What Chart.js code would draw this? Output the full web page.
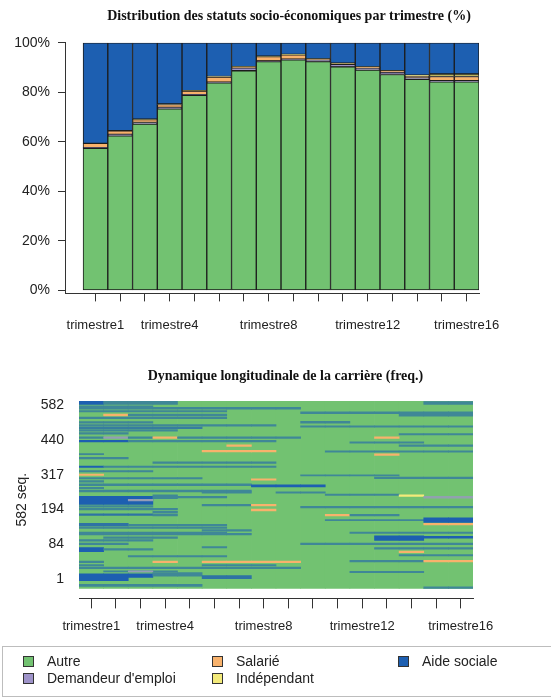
<!DOCTYPE html>
<html>
<head>
<meta charset="utf-8">
<script src="https://cdn.jsdelivr.net/npm/chart.js@4.4.1/dist/chart.umd.min.js"></script>
<style>
  body { margin: 0; background: #fff; font-family: 'Liberation Sans', Arial, sans-serif; }
  #wrap { position: relative; width: 551px; height: 699px; overflow: hidden; }
  #c1 { position: absolute; left: 0; top: 0; }
  #c2 { position: absolute; left: 0; top: 340px; }
  #legend { position: absolute; left: 2px; top: 646px; width: 560px; height: 51px; border: 1px solid #bdbdbd; box-sizing: border-box; }
  .item { position: absolute; font-size: 14px; color: #222; white-space: nowrap; line-height: 16px; }
  .sw { display: inline-block; width: 9px; height: 9px; border: 1px solid #333; margin-right: 13px; vertical-align: -1px; }
</style>
</head>
<body>
<div id="wrap">
  <canvas id="c1" width="567" height="357"></canvas>
  <canvas id="c2" width="557" height="311"></canvas>
  <div id="legend"></div>
</div>
<script>
Chart.defaults.font.family = "'Liberation Sans', Arial, sans-serif";

// periods and states
const periods = ['trimestre1', 'trimestre2', 'trimestre3', 'trimestre4', 'trimestre5', 'trimestre6',
  'trimestre7', 'trimestre8', 'trimestre9', 'trimestre10', 'trimestre11', 'trimestre12',
  'trimestre13', 'trimestre14', 'trimestre15', 'trimestre16'];
const shownPeriods = ['trimestre1', 'trimestre4', 'trimestre8', 'trimestre12', 'trimestre16'];
const states = ['Autre', "Demandeur d'emploi", 'Salarié', 'Indépendant', 'Aide sociale'];
const stateCodes = ['aut', 'dem', 'sal', 'ind', 'aid'];
const stateColors = ['#72C271', '#9E93C9', '#F8B26C', '#F3EA7A', '#1D5FB1'];

// distribution per quarter (%)
const autre       = [57.4, 62.4, 67.2, 73.3, 78.8, 83.8, 88.7, 92.4, 93.1, 92.4, 90.3, 89.0, 87.2, 85.2, 84.2, 84.2];
const demandeur   = [0.3, 0.6, 0.6, 0.6, 0.3, 0.3, 1.2, 0.3, 0.3, 0.6, 1.0, 0.8, 1.0, 0.6, 0.5, 0.5];
const salarie     = [1.7, 1.5, 1.2, 1.2, 1.4, 2.1, 0.3, 1.7, 1.7, 0.3, 0.3, 0.3, 0.3, 0.8, 1.7, 1.7];
const independant = [0, 0, 0.2, 0.2, 0.2, 0.2, 0.2, 0.2, 0.2, 0.2, 0.2, 0.2, 0.2, 0.3, 1.0, 1.0];
const aideSociale = [40.6, 35.5, 30.8, 24.7, 19.3, 13.6, 9.6, 5.4, 4.7, 6.5, 8.2, 9.7, 11.3, 13.1, 12.6, 12.6];

// sequence index plot
const seqCount = 582;
const seqTickLabels = ['1', '84', '194', '317', '440', '582'];
// [state, share of rows in that state, seq from, seq to, first quarter, last quarter]
const seqRuns = [
  ['aid', 1, 571, 582, 1, 1], ['aid', .6, 571, 582, 2, 4], ['aid', .6, 571, 580, 15, 16],
  ['aid', .6, 562, 567, 1, 3], ['aid', .6, 557, 562, 1, 9], ['aid', .6, 548, 552, 1, 6],
  ['aid', .6, 543, 548, 10, 13], ['aid', .6, 535, 548, 14, 16], ['sal', 1, 536, 541, 2, 2],
  ['aid', .6, 536, 541, 3, 6], ['aid', .6, 527, 532, 1, 6], ['aid', .6, 513, 518, 1, 3],
  ['aid', .6, 513, 519, 10, 11], ['aid', .6, 504, 509, 1, 8], ['aid', .6, 501, 505, 10, 16],
  ['aid', .7, 496, 501, 1, 5], ['aid', .6, 488, 493, 1, 4], ['aid', .6, 479, 484, 1, 2],
  ['aid', .6, 477, 481, 14, 16], ['aid', .6, 466, 471, 1, 1], ['dem', .8, 466, 471, 2, 2],
  ['aid', .6, 466, 471, 3, 3], ['sal', 1, 466, 471, 4, 4], ['aid', .6, 466, 471, 5, 9],
  ['sal', 1, 466, 471, 13, 13], ['aid', 1, 455, 460, 1, 2], ['aid', .6, 455, 460, 3, 8],
  ['aid', .6, 451, 455, 12, 14], ['sal', 1, 441, 446, 7, 7], ['aid', .6, 441, 446, 14, 16],
  ['sal', 1, 424, 429, 6, 8], ['aid', .6, 423, 427, 11, 16], ['aid', .6, 415, 419, 1, 1],
  ['sal', 1, 413, 418, 13, 13], ['aid', .6, 402, 407, 1, 2], ['aid', .6, 388, 393, 4, 8],
  ['aid', 1, 376, 380, 1, 1], ['aid', .6, 376, 380, 2, 8], ['aid', .6, 362, 366, 1, 3],
  ['sal', 1, 351, 355, 1, 1], ['aid', .6, 349, 353, 10, 13], ['aid', .6, 340, 344, 1, 5],
  ['aid', .6, 341, 346, 13, 16], ['sal', 1, 336, 340, 8, 8], ['aid', .6, 330, 335, 1, 1],
  ['aid', .6, 319, 325, 1, 7], ['aid', 1, 315, 322, 8, 10], ['aid', .6, 310, 314, 1, 1],
  ['aid', .6, 300, 305, 1, 7], ['aid', .6, 296, 300, 9, 10], ['aid', .6, 296, 300, 6, 7],
  ['aid', .6, 289, 293, 11, 13], ['ind', 1, 286, 291, 14, 14], ['dem', .7, 280, 286, 15, 16],
  ['aid', 1, 261, 286, 1, 3], ['dem', .8, 272, 277, 3, 3], ['aid', .6, 279, 291, 4, 4],
  ['aid', .6, 281, 286, 5, 6], ['aid', .6, 256, 261, 6, 7], ['sal', 1, 256, 261, 8, 8],
  ['aid', .6, 252, 257, 1, 3], ['aid', .6, 250, 255, 10, 16], ['aid', .6, 244, 249, 1, 4],
  ['sal', 1, 241, 246, 8, 8], ['aid', .6, 235, 239, 4, 4], ['aid', .8, 227, 232, 1, 3],
  ['sal', 1, 225, 230, 11, 11], ['aid', .6, 225, 230, 12, 13], ['aid', .6, 225, 232, 4, 4],
  ['aid', .6, 210, 214, 11, 14], ['aid', 1, 205, 219, 15, 16], ['sal', 1, 197, 202, 15, 16],
  ['aid', .8, 194, 202, 1, 2], ['aid', .6, 195, 199, 3, 6], ['aid', .6, 186, 191, 1, 6],
  ['aid', .6, 178, 183, 6, 7], ['aid', .6, 171, 175, 1, 6], ['aid', .6, 171, 175, 12, 16],
  ['aid', .6, 166, 171, 1, 7], ['aid', 1, 149, 163, 13, 14], ['aid', 1, 156, 162, 15, 16],
  ['aid', .6, 155, 160, 2, 4], ['aid', .6, 147, 152, 1, 3], ['aid', .6, 136, 141, 1, 2],
  ['aid', .6, 136, 141, 10, 16], ['aid', .6, 126, 130, 6, 6], ['aid', .6, 122, 127, 13, 16],
  ['aid', 1, 114, 127, 1, 1], ['aid', .6, 119, 124, 2, 3], ['sal', 1, 111, 116, 14, 14],
  ['aid', .6, 101, 105, 14, 16], ['aid', .6, 98, 102, 3, 6], ['aid', .6, 80, 85, 1, 1],
  ['sal', 1, 80, 85, 4, 4], ['sal', 1, 80, 85, 6, 9], ['aid', .6, 82, 87, 12, 14],
  ['sal', 1, 82, 87, 15, 16], ['aid', .6, 70, 74, 1, 1], ['aid', .6, 70, 74, 6, 8],
  ['aid', .6, 61, 66, 1, 9], ['aid', .6, 51, 55, 2, 4], ['dem', .8, 51, 55, 3, 3],
  ['aid', .6, 49, 53, 12, 14], ['aid', 1, 24, 45, 1, 2], ['aid', 1, 34, 45, 3, 3],
  ['aid', .6, 38, 49, 4, 5], ['aid', .8, 30, 40, 6, 7], ['aid', .6, 6, 13, 1, 5],
  ['aid', .6, 0, 5, 15, 16]
];

function mix(hexA, hexB, t) {
  const a = [1, 3, 5].map(i => parseInt(hexA.substr(i, 2), 16));
  const b = [1, 3, 5].map(i => parseInt(hexB.substr(i, 2), 16));
  return 'rgb(' + a.map((v, i) => Math.round(v * t + b[i] * (1 - t))).join(',') + ')';
}

const axisColor = '#333';
const textColor = '#222';
const titleFont = { family: "'Liberation Serif', 'Times New Roman', serif", size: 14, weight: 'bold' };

// spacer axis on the right so the titles sit where the original has them
const rightSpacer = width => ({
  position: 'right', display: true,
  afterFit: s => { s.width = width; },
  ticks: { display: false }, grid: { display: false }, border: { display: false }
});

// --- top chart: stacked distribution ---
const shareSeries = [autre, demandeur, salarie, independant, aideSociale];
new Chart(document.getElementById('c1'), {
  type: 'bar',
  data: {
    datasets: shareSeries.map((s, k) => ({
      label: states[k],
      data: s.map((v, i) => ({ x: i + 1, y: v })),
      backgroundColor: stateColors[k],
      borderColor: '#1c1c1c',
      borderWidth: 1,
      borderSkipped: false,
      barPercentage: 1,
      categoryPercentage: 1,
      yAxisID: 'y'
    }))
  },
  options: {
    responsive: false,
    animation: false,
    layout: { padding: { left: 11, right: 0, top: 0, bottom: 8 } },
    plugins: {
      legend: { display: false },
      tooltip: { enabled: false },
      title: {
        display: true,
        text: 'Distribution des statuts socio-économiques par trimestre (%)',
        font: titleFont, color: '#111',
        padding: { top: 8, bottom: 18 }
      }
    },
    scales: {
      x: {
        type: 'linear', stacked: true, offset: false, min: -0.23, max: 16.5,
        afterBuildTicks: s => { s.ticks = periods.map((p, i) => ({ value: i + 1 })); },
        ticks: {
          autoSkip: false, maxRotation: 0, padding: 16, color: textColor, font: { size: 13 },
          callback: v => shownPeriods.includes(periods[v - 1]) ? periods[v - 1] : ''
        },
        grid: { drawOnChartArea: false, offset: false, tickLength: 8, color: axisColor },
        border: { color: axisColor }
      },
      y: {
        stacked: true, min: -1.2, max: 100,
        afterBuildTicks: s => { s.ticks = [0, 20, 40, 60, 80, 100].map(v => ({ value: v })); },
        afterFit: s => { s.width = 54; },
        ticks: { padding: 8, color: textColor, font: { size: 14 }, callback: v => v + '%' },
        grid: { drawOnChartArea: false, tickLength: 7, color: axisColor },
        border: { color: axisColor }
      },
      yR: rightSpacer(88)
    }
  }
});

// --- bottom chart: sequence index plot ---
const seqDatasets = [{
  label: states[0],
  data: periods.map((p, i) => ({ x: i + 1, y: [0, seqCount] })),
  backgroundColor: stateColors[0],
  order: 1
}];
seqRuns.forEach((r, n) => {
  const [code, share, lo, hi, c0, c1] = r;
  const data = [];
  for (let c = c0; c <= c1; c++) data.push({ x: c, y: [lo, hi] });
  seqDatasets.push({
    label: states[stateCodes.indexOf(code)],
    data: data,
    backgroundColor: mix(stateColors[stateCodes.indexOf(code)], stateColors[0], share),
    order: -n - 1
  });
});
seqDatasets.forEach(d => {
  d.grouped = false;
  d.barPercentage = 1;
  d.categoryPercentage = 1;
  d.borderWidth = 0;
  d.yAxisID = 'y';
});

new Chart(document.getElementById('c2'), {
  type: 'bar',
  data: { datasets: seqDatasets },
  options: {
    responsive: false,
    animation: false,
    layout: { padding: { left: 14, right: 0, top: 0, bottom: 7 } },
    plugins: {
      legend: { display: false },
      tooltip: { enabled: false },
      title: {
        display: true,
        text: 'Dynamique longitudinale de la carrière (freq.)',
        font: titleFont, color: '#111',
        padding: { top: 27.6, bottom: 16.6 }
      }
    },
    scales: {
      x: {
        type: 'linear', offset: false, min: 0.5, max: 16.5,
        afterBuildTicks: s => { s.ticks = periods.map((p, i) => ({ value: i + 1 })); },
        ticks: {
          autoSkip: false, maxRotation: 0, padding: 10, color: textColor, font: { size: 13 },
          callback: v => shownPeriods.includes(periods[v - 1]) ? periods[v - 1] : ''
        },
        grid: { drawOnChartArea: false, offset: false, tickLength: 10, color: axisColor },
        border: { color: axisColor }
      },
      y: {
        min: -31, max: seqCount,
        afterBuildTicks: s => {
          s.ticks = seqTickLabels.map((l, i) => ({ value: 28 + i * (542 / (seqTickLabels.length - 1)) }));
        },
        afterFit: s => { s.width = 65; },
        ticks: { padding: 7, color: textColor, font: { size: 14 }, callback: (v, i) => seqTickLabels[i] },
        grid: { display: false },
        border: { display: false },
        title: { display: true, text: seqCount + ' seq.', color: textColor, font: { size: 14 }, padding: 0 }
      },
      yR: rightSpacer(84)
    }
  }
});

// --- legend (three columns, filled column by column) ---
const legend = document.getElementById('legend');
const colX = [20, 209, 395];
states.forEach((name, i) => {
  const el = document.createElement('div');
  el.className = 'item';
  el.style.left = colX[Math.floor(i / 2)] + 'px';
  el.style.top = (6 + (i % 2) * 17) + 'px';
  el.innerHTML = '<span class="sw" style="background:' + stateColors[i] + '"></span>' + name;
  legend.appendChild(el);
});
</script>
</body>
</html>
